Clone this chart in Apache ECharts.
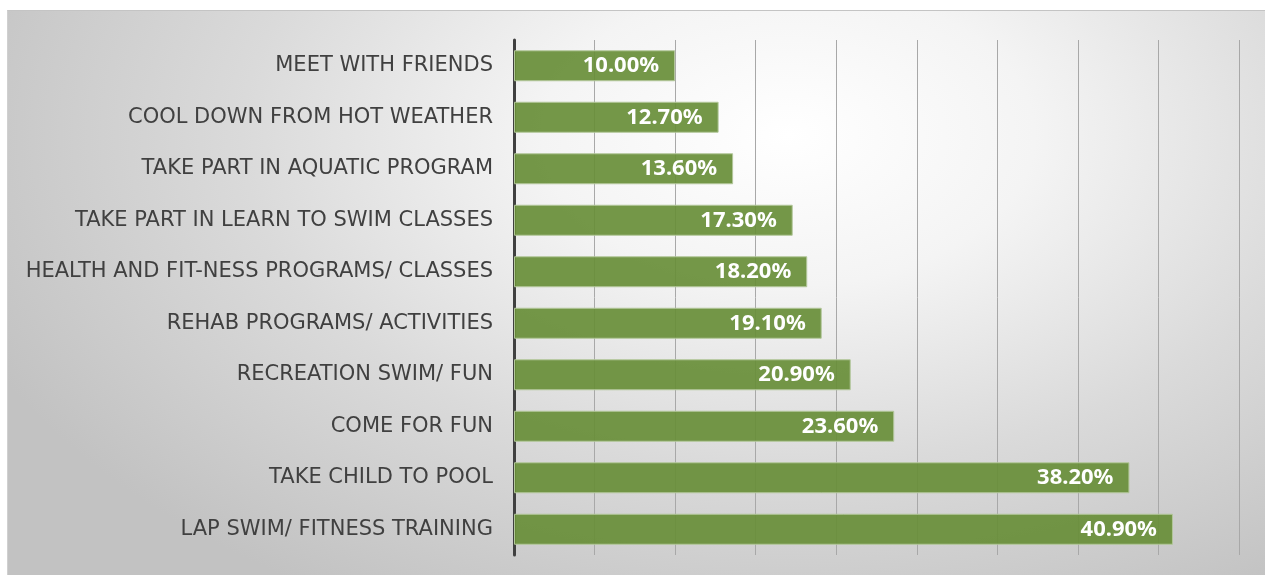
<!DOCTYPE html>
<html>
<head>
<meta charset="utf-8">
<script src="https://cdn.jsdelivr.net/npm/echarts@6/dist/echarts.min.js"></script>
<style>
  html, body { margin: 0; padding: 0; background: #fff; }
  #frame {
    position: absolute; left: 7px; top: 10px; width: 1258px; height: 565px;
    border-top: 1px solid #c4c4c4; border-left: 1px solid #d0d0d0;
    background: radial-gradient(ellipse 70% 95% at 62% 22%, #ffffff 0%, #f4f4f4 28%, #dadada 62%, #c2c2c2 100%);
  }
  #myChart { position: absolute; left: 0; top: 0; width: 1265px; height: 575px; }
</style>
</head>
<body>
<div id="frame"></div>
<div id="myChart"></div>
<script>
// reasons for coming to the pool, top to bottom
var categories = [
  'MEET WITH FRIENDS',
  'COOL DOWN FROM HOT WEATHER',
  'TAKE PART IN AQUATIC PROGRAM',
  'TAKE PART IN LEARN TO SWIM CLASSES',
  'HEALTH AND FIT-NESS PROGRAMS/ CLASSES',
  'REHAB PROGRAMS/ ACTIVITIES',
  'RECREATION SWIM/ FUN',
  'COME FOR FUN',
  'TAKE CHILD TO POOL',
  'LAP SWIM/ FITNESS TRAINING'
];
var percents = [10.0, 12.7, 13.6, 17.3, 18.2, 19.1, 20.9, 23.6, 38.2, 40.9];

var myChart = echarts.init(document.getElementById('myChart'));
myChart.setOption({
  backgroundColor: 'transparent',
  animation: false,
  grid: { left: 514, right: 26, top: 40, bottom: 20 },
  xAxis: {
    type: 'value',
    min: 0,
    max: 45,
    interval: 5,
    axisLabel: { show: false },
    axisLine: { show: false },
    axisTick: { show: false },
    splitLine: { show: true, lineStyle: { color: '#a8a8a8', width: 1 } }
  },
  yAxis: {
    type: 'category',
    inverse: true,
    data: categories,
    axisTick: { show: false },
    axisLine: { show: true, lineStyle: { color: '#404040', width: 3 } },
    axisLabel: {
      color: '#404040',
      fontSize: 21,
      fontFamily: 'DejaVu Sans',
      margin: 21
    }
  },
  series: [{
    type: 'bar',
    data: percents,
    barWidth: 31,
    itemStyle: {
      color: 'rgba(104,142,56,0.92)',
      borderColor: '#b3c79b',
      borderWidth: 1
    },
    label: {
      show: true,
      position: 'insideRight',
      distance: 16,
      color: '#ffffff',
      fontSize: 22,
      fontWeight: 'bold',
      fontFamily: 'Noto Sans',
      formatter: function (p) { return p.value.toFixed(2) + '%'; }
    }
  }]
});
</script>
</body>
</html>
